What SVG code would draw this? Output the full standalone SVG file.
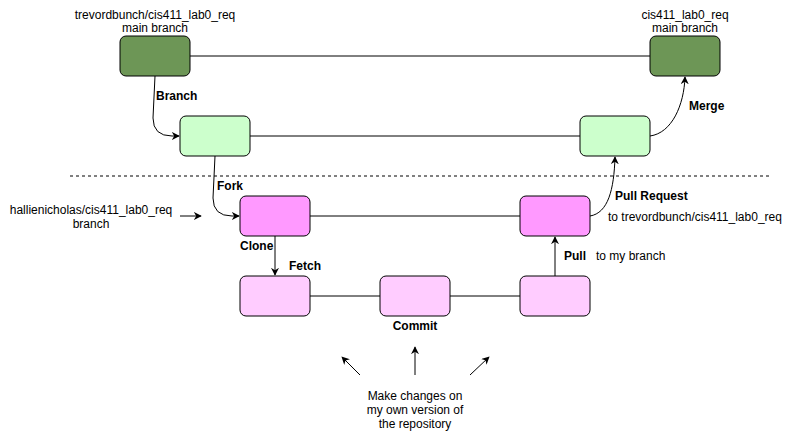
<svg xmlns="http://www.w3.org/2000/svg" width="791" height="436" viewBox="0 0 791 436">
<style>
text{font-family:"Liberation Sans",Arial,sans-serif;font-size:12px;fill:#000}
.b{font-weight:bold}
.m{text-anchor:middle}
.n{stroke:#000;stroke-width:1}
.dg{fill:#6d9656}
.lg{fill:#ccffcc}
.mg{fill:#ff99ff}
.pk{fill:#ffccff}
.e{fill:none;stroke:#000;stroke-width:1}
</style>
<defs>
<marker id="ar" viewBox="0 0 10 10" refX="9" refY="5" markerWidth="8" markerHeight="8" orient="auto" markerUnits="userSpaceOnUse">
<path d="M0,0 L10,5 L0,10 L3,5 Z" fill="#000"/>
</marker>
</defs>
<rect width="791" height="436" fill="#fff"/>
<g id="connectors">
<line class="e" x1="190" y1="56" x2="650" y2="56"/>
<line class="e" x1="250" y1="136" x2="580" y2="136"/>
<line class="e" x1="310" y1="216" x2="520" y2="216"/>
<line class="e" x1="310" y1="296" x2="380" y2="296"/>
<line class="e" x1="450" y1="296" x2="520" y2="296"/>
<line x1="70" y1="176" x2="770" y2="176" stroke="#000" stroke-dasharray="3,3"/>
<path class="e" d="M155,76 L153,118 Q153,136 172,136 L179,136" marker-end="url(#ar)"/>
<path class="e" d="M215,156 L213,198 Q213,216 232,216 L239,216" marker-end="url(#ar)"/>
<path class="e" d="M275,236 L275,275" marker-end="url(#ar)"/>
<path class="e" d="M555,276 L555,237" marker-end="url(#ar)"/>
<path class="e" d="M590,216 C608,213 614,190 615,157" marker-end="url(#ar)"/>
<path class="e" d="M650,136 C672,133 684,105 685,77" marker-end="url(#ar)"/>
<path class="e" d="M180,216 L201,216" marker-end="url(#ar)"/>
<path class="e" d="M360,375 L342,357" marker-end="url(#ar)"/>
<path class="e" d="M415,375 L415,347" marker-end="url(#ar)"/>
<path class="e" d="M470,375 L489,357" stroke="#555" marker-end="url(#ar)"/>
</g>
<g id="main-left"><rect class="n dg" x="120" y="36" width="70" height="40" rx="6"/></g>
<g id="main-right"><rect class="n dg" x="650" y="36" width="70" height="40" rx="6"/></g>
<g id="branch-left"><rect class="n lg" x="180" y="116" width="70" height="40" rx="6"/></g>
<g id="branch-right"><rect class="n lg" x="580" y="116" width="70" height="40" rx="6"/></g>
<g id="fork-left"><rect class="n mg" x="240" y="196" width="70" height="40" rx="6"/></g>
<g id="fork-right"><rect class="n mg" x="520" y="196" width="70" height="40" rx="6"/></g>
<g id="local-1"><rect class="n pk" x="240" y="276" width="70" height="40" rx="6"/></g>
<g id="local-2"><rect class="n pk" x="380" y="276" width="70" height="40" rx="6"/></g>
<g id="local-3"><rect class="n pk" x="520" y="276" width="70" height="40" rx="6"/></g>
<g id="labels">
<text class="m" x="155" y="19">trevordbunch/cis411_lab0_req</text>
<text class="m" x="155" y="32">main branch</text>
<text class="m" x="685" y="19">cis411_lab0_req</text>
<text class="m" x="685" y="32">main branch</text>
<text class="m" x="91" y="214">hallienicholas/cis411_lab0_req</text>
<text class="m" x="91" y="228">branch</text>
<text class="b" x="156" y="100">Branch</text>
<text class="b" x="689" y="110">Merge</text>
<text class="b" x="217" y="190">Fork</text>
<text class="b" x="240" y="250">Clone</text>
<text class="b" x="289" y="270">Fetch</text>
<text class="b" x="615" y="200">Pull Request</text>
<text x="608" y="221">to trevordbunch/cis411_lab0_req</text>
<text class="b" x="564" y="260">Pull</text>
<text x="596" y="260">to my branch</text>
<text class="b m" x="415" y="330">Commit</text>
<text class="m" x="415" y="400">Make changes on</text>
<text class="m" x="415" y="414">my own version of</text>
<text class="m" x="415" y="428">the repository</text>
</g>
</svg>
